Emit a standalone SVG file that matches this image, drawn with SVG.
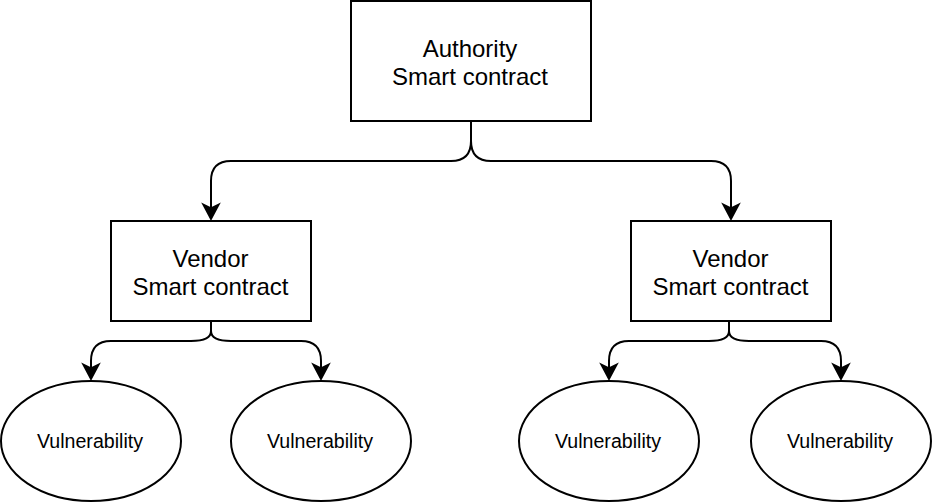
<svg xmlns="http://www.w3.org/2000/svg" width="932" height="504" viewBox="0 0 932 504">
<style>
.shape{fill:#ffffff;stroke:#000000;stroke-width:2}
.edge{fill:none;stroke:#000000;stroke-width:2}
.t24{font-family:"Liberation Sans",Arial,Helvetica,sans-serif;font-size:24px;fill:#000000;text-anchor:middle}
.t20{font-family:"Liberation Sans",Arial,Helvetica,sans-serif;font-size:19.6px;fill:#000000;text-anchor:middle}
</style>
<defs>
<marker id="arrow" markerUnits="userSpaceOnUse" viewBox="-18 -10 21 20" refX="0" refY="0" markerWidth="21" markerHeight="20" orient="auto">
<path d="M0,0 L-14,-7.5 L-10.5,0 L-14,7.5 Z" fill="#000000" stroke="#000000" stroke-width="2" stroke-miterlimit="10"/>
</marker>
</defs>
<rect width="932" height="504" fill="#ffffff"/>
<g id="connectors">
<path class="edge" d="M471,121 V141 Q471,161 451,161 H231 Q211,161 211,181 V218.8" marker-end="url(#arrow)"/>
<path class="edge" d="M471,121 V141 Q471,161 491,161 H711 Q731,161 731,181 V218.8" marker-end="url(#arrow)"/>
<path class="edge" d="M211,321 V331 Q211,341 191,341 H111 Q91,341 91,361 V378.8" marker-end="url(#arrow)"/>
<path class="edge" d="M211,321 V331 Q211,341 231,341 H301 Q321,341 321,361 V378.8" marker-end="url(#arrow)"/>
<path class="edge" d="M729,321 V331 Q729,341 709,341 H629 Q609,341 609,361 V378.8" marker-end="url(#arrow)"/>
<path class="edge" d="M729,321 V331 Q729,341 749,341 H821 Q841,341 841,361 V378.8" marker-end="url(#arrow)"/>
</g>
<g id="authority">
<rect class="shape" x="351" y="1" width="240" height="120"/>
<text class="t24" x="470" y="56.5">Authority</text>
<text class="t24" x="470" y="85">Smart contract</text>
</g>
<g id="vendor-left">
<rect class="shape" x="111" y="221" width="200" height="100"/>
<text class="t24" x="210.5" y="266.5">Vendor</text>
<text class="t24" x="210.5" y="295">Smart contract</text>
</g>
<g id="vendor-right">
<rect class="shape" x="631" y="221" width="200" height="100"/>
<text class="t24" x="730.5" y="266.5">Vendor</text>
<text class="t24" x="730.5" y="295">Smart contract</text>
</g>
<g id="vuln-1">
<ellipse class="shape" cx="91" cy="441" rx="90" ry="60"/>
<text class="t20" x="90" y="448">Vulnerability</text>
</g>
<g id="vuln-2">
<ellipse class="shape" cx="321" cy="441" rx="90" ry="60"/>
<text class="t20" x="320" y="448">Vulnerability</text>
</g>
<g id="vuln-3">
<ellipse class="shape" cx="609" cy="441" rx="90" ry="60"/>
<text class="t20" x="608" y="448">Vulnerability</text>
</g>
<g id="vuln-4">
<ellipse class="shape" cx="841" cy="441" rx="90" ry="60"/>
<text class="t20" x="840" y="448">Vulnerability</text>
</g>
</svg>
